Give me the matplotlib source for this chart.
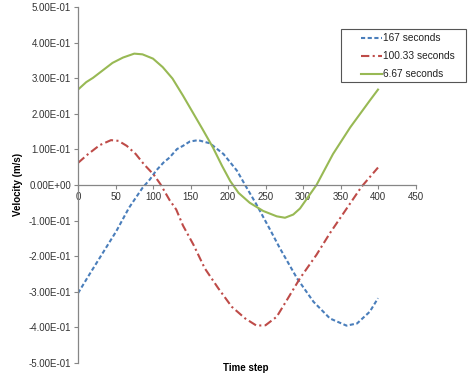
import matplotlib
matplotlib.use("Agg")
import matplotlib.pyplot as plt
from matplotlib.ticker import FuncFormatter
from matplotlib.patches import Rectangle
from matplotlib.lines import Line2D

# Data
x_167 = [0, 15, 33, 51, 68, 86, 96, 104, 114, 122, 132, 140, 149, 160, 176, 194, 212, 225, 238, 256, 269,
         292, 314, 336, 358, 372, 389, 400]
y_167 = [-0.304, -0.252, -0.191, -0.130, -0.064, -0.008, 0.016, 0.040, 0.063, 0.077, 0.101, 0.110, 0.122, 0.126,
         0.117, 0.087, 0.040, -0.008, -0.055, -0.125, -0.177, -0.262, -0.328, -0.375, -0.395, -0.389, -0.356, -0.318]

x_100 = [0, 13, 29, 44, 54, 65, 77, 88, 101, 110, 122, 131, 140, 154, 169, 187, 205, 223, 238, 250, 265, 280,
         296, 318, 336, 356, 378, 400]
y_100 = [0.062, 0.086, 0.112, 0.126, 0.124, 0.110, 0.087, 0.058, 0.029, 0.002, -0.042, -0.069, -0.114, -0.168,
         -0.234, -0.290, -0.342, -0.375, -0.395, -0.394, -0.370, -0.318, -0.262, -0.196, -0.135, -0.073, -0.005, 0.049]

x_667 = [0, 11, 20, 33, 46, 60, 75, 86, 100, 113, 126, 140, 153, 166, 180, 192, 203, 214, 229, 247, 265, 276,
         287, 296, 318, 340, 363, 389, 400]
y_667 = [0.268, 0.289, 0.301, 0.322, 0.343, 0.358, 0.369, 0.367, 0.355, 0.331, 0.299, 0.251, 0.204, 0.157,
         0.105, 0.054, 0.011, -0.022, -0.050, -0.073, -0.088, -0.092, -0.083, -0.066, 0.000, 0.087, 0.162, 0.237, 0.268]

labels = ["167 seconds", "100.33 seconds", "6.67 seconds"]
colors = ['#4A7EBB', '#BE4B48', '#98B954']
styles = [(0, (2, 1.2)), (0, (4, 1.6, 1, 1.6)), '-']
x_ticks = [0, 50, 100, 150, 200, 250, 300, 350, 400, 450]
y_ticks = [-0.5, -0.4, -0.3, -0.2, -0.1, 0.0, 0.1, 0.2, 0.3, 0.4, 0.5]

plt.rcParams['font.family'] = ['Liberation Sans', 'DejaVu Sans']

W, H = 470, 381
fig = plt.figure(figsize=(W/100, H/100), dpi=100)
ax = fig.add_axes([78/W, 1-363/H, (415.5-78)/W, (363-7)/H])

lw = 1.5
for xs, ys, c, st, lab in zip([x_167, x_100, x_667], [y_167, y_100, y_667], colors, styles, labels):
    ax.plot(xs, ys, color=c, lw=lw, linestyle=st, label=lab)

ax.set_xlim(0, 450)
ax.set_ylim(-0.5, 0.5)
ax.set_xticks(x_ticks)
ax.set_yticks(y_ticks)

def yfmt(v, pos):
    if abs(v) < 1e-12:
        return "0.00E+00"
    return "%.2E" % v
ax.yaxis.set_major_formatter(FuncFormatter(yfmt))

for s in ['top', 'right']:
    ax.spines[s].set_visible(False)
ax.spines['bottom'].set_position(('data', 0))
for s in ['left', 'bottom']:
    ax.spines[s].set_color('#868686')
    ax.spines[s].set_linewidth(0.9)

ax.tick_params(axis='both', direction='out', length=3, width=0.8, color='#868686',
               labelsize=7, labelcolor='#333333', pad=2)

fig.text(18/W, 1-184/H, "Velocity (m/s)", rotation=90, fontsize=7, fontweight='bold',
         ha='center', va='center')
fig.text(246/W, 1-368/H, "Time step", fontsize=7, fontweight='bold', ha='center', va='center')

# Legend box drawn in figure pixel coordinates
fig.add_artist(Rectangle((341/W, 1-82/H), (466-341)/W, (82-29)/H, transform=fig.transFigure,
                         facecolor='white', edgecolor='#555555', linewidth=0.8))
for i, (c, st, lab) in enumerate(zip(colors, styles, labels)):
    yy = 1-(38 + 18*i)/H
    fig.add_artist(Line2D([361/W, 382/W], [yy, yy], transform=fig.transFigure, color=c, lw=lw, linestyle=st))
    fig.text(383/W, yy, lab, fontsize=7.3, ha='left', va='center', color='#222222')

fig.savefig("out.png", dpi=100, facecolor='white')
